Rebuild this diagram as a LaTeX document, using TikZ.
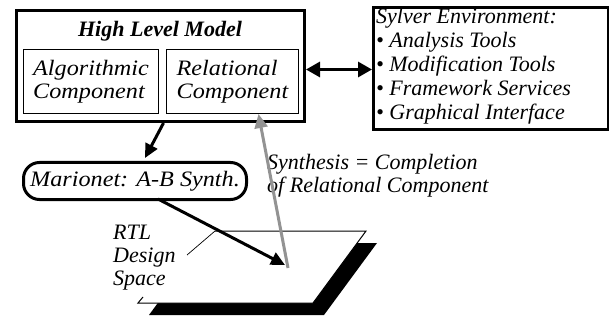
\documentclass[tikz,border=0pt]{standalone}
\usepackage{fontspec}
\setmainfont{Liberation Serif}
\newfontfamily\wideserif[FakeStretch=1.1]{Liberation Serif}
\usetikzlibrary{arrows.meta,calc}
\begin{document}
\begin{tikzpicture}[x=1pt,y=-1pt,
  txt/.style={font=\fontsize{22}{23}\selectfont\itshape},
  widetxt/.style={font=\wideserif\fontsize{22}{23}\selectfont\itshape},
  thickbox/.style={draw,line width=3pt,inner sep=0pt,anchor=north west},
  thinbox/.style={draw,line width=1pt,inner sep=0pt,anchor=north west},
  arr/.style={line width=3pt,-{Triangle[length=14pt,width=13pt]}},
  darr/.style={line width=3pt,{Triangle[length=14pt,width=15pt]}-{Triangle[length=14pt,width=15pt]}},
  grayarr/.style={line width=3pt,draw=gray!85,-{Triangle[length=14pt,width=13pt]},gray!85}
]
\useasboundingbox (0,0) rectangle (609,320);
% RTL design space
\fill[black] (202,243) -- (377,243) -- (324,315) -- (149,315) -- cycle;
\fill[white] (191,231) -- (366,231) -- (313,303) -- (138,303) -- cycle;
\coordinate (pa) at (215,231);
\coordinate (pb) at (366,231);
\coordinate (pc) at (313,303);
\coordinate (pd) at (138,303);
\coordinate (pe) at (143,297);
\coordinate (lead) at (187,255);
\draw[line width=1pt] (pa) -- (pb) -- (pc) -- (pd) -- (pe);
\draw[line width=0.7pt] (lead) -- (pa);
\node[txt,align=left,anchor=north west,inner sep=0pt] (rtl) at (113,225) {RTL\\Design\\Space};
% high level model
\node[thickbox,minimum width=288pt,minimum height=111pt] (hlm) at (15,9) {};
\node[font=\fontsize{22}{23}\selectfont\bfseries\itshape] (title) at (160,31) {High Level Model};
\node[thinbox,minimum width=135pt,minimum height=64pt] (alg) at (23,49) {};
\node[widetxt,align=left] (algt) at (alg.center) {Algorithmic\\Component};
\node[thinbox,minimum width=132pt,minimum height=64pt] (rel) at (166,49) {};
\node[widetxt,align=left] (relt) at (rel.center) {Relational\\Component};
% sylver
\node[thickbox,minimum width=235pt,minimum height=122pt] (syl) at (372,6) {};
\node[align=left,anchor=north west,inner sep=0pt,font=\fontsize{22}{24}\selectfont\itshape] (sylt) at (376,8) {Sylver Environment:\\\textbullet{} Analysis Tools\\\textbullet{} Modification Tools\\\textbullet{} Framework Services\\\textbullet{} Graphical Interface};
% marionet
\node[draw,line width=3pt,rounded corners=16pt,minimum width=223pt,minimum height=37pt,anchor=north west,inner sep=0pt] (mar) at (22,161) {};
\node[widetxt] (mart) at (mar.center) {Marionet: A-B Synth.};
% synthesis text
\node[txt,align=left,anchor=north west,inner sep=0pt] (syn) at (267,154) {Synthesis = Completion\\of Relational Component};
% connectors
\draw[darr] ([yshift=-3.5pt]hlm.east) -- ([yshift=-3.5pt]syl.west |- hlm.east);
\draw[arr] ([xshift=3pt]hlm.south) -- ([xshift=10pt,yshift=3pt]mar.north);
\coordinate (tipb) at (285,265);
\draw[arr] ([xshift=23pt,yshift=2pt]mar.south) -- (tipb);
\coordinate (gstart) at (288,268);
\draw[grayarr] (gstart) -- ([xshift=26pt]rel.south);
\end{tikzpicture}
\end{document}
